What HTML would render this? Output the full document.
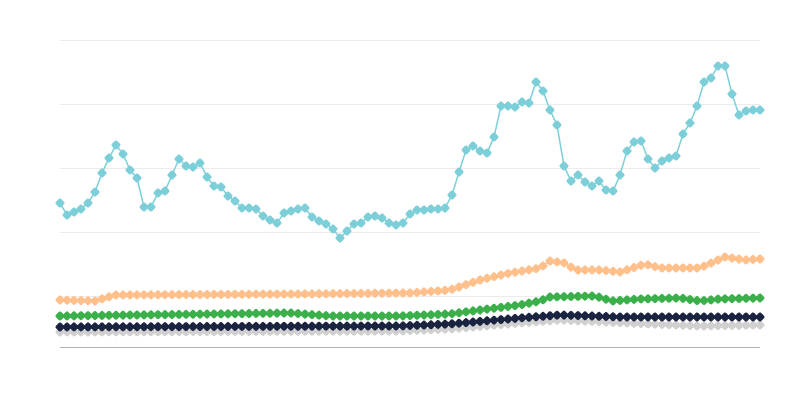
<!DOCTYPE html>
<html><head><meta charset="utf-8"><style>
html,body{margin:0;padding:0;background:#fff;width:800px;height:400px;overflow:hidden}
</style></head><body>
<svg id="s" width="800" height="400" xmlns="http://www.w3.org/2000/svg">
<g stroke="#ebebeb" stroke-width="1">
<line x1="60" x2="760" y1="40.5" y2="40.5"/>
<line x1="60" x2="760" y1="104.5" y2="104.5"/>
<line x1="60" x2="760" y1="168.5" y2="168.5"/>
<line x1="60" x2="760" y1="232.5" y2="232.5"/>
<line x1="60" x2="760" y1="296.5" y2="296.5"/>
</g>
<line x1="60" x2="760" y1="347.5" y2="347.5" stroke="#b0b0b0" stroke-width="1"/>
<g id="g"></g>
</svg>
<script>
var teal=[203,215,212,209,203,192,173,158,145,154,170,178,207,207,193,191,175,159,166,167,163,177,186,187,196,201,208,208,209,216,220,223,213,211,209,208,217,221,224,229,238,231,224,223,217,216,218,223,225,223,214,210,210,209,209,208,195,172,150,146,151,153,137,106,106,107,102,103,82,91,110,125,166,181,175,182,186,181,190,191,175,151,142,141,159,168,161,158,156,134,123,106,82,78,66,66,94,115,111,110,110];
function pw(k){var a=[];for(var i=0;i<101;i++){var x=60+7*i,j=0;while(j<k.length-2&&x>k[j+1][0])j++;var p=k[j],q=k[j+1];var t=(x-p[0])/(q[0]-p[0]);t=Math.max(0,Math.min(1,t));a.push(p[1]+(q[1]-p[1])*t);}return a;}
var orange=pw([[60,300],[95,301],[115,295],[300,294],[410,293],[450,290],[480,280],[510,273],[540,268],[550,261],[565,263],[575,270],[600,270],[620,272],[645,264],[660,268],[700,268],[725,257],[745,260],[760,259]]);
var green=pw([[60,316],[290,313],[330,316],[400,316],[450,314],[480,310],[520,305],[540,301],[550,297],[595,296],[612,301],[640,299],[680,298],[700,301],[720,299],[760,298]]);
var navy=pw([[60,327],[400,326],[450,324],[520,318],[560,315],[620,317],[760,317]]);
var gray=pw([[60,332],[400,331],[450,329],[520,323],[560,320],[650,324],[700,326],[760,325]]);
var g=document.getElementById('g'),h='';
function ser(d,c){var p='';for(var i=0;i<d.length;i++){p+=(i?'L':'M')+(60+7*i)+' '+d[i].toFixed(1);}
h+='<path d="'+p+'" fill="none" stroke="'+c+'" stroke-width="1.5"/>';
for(var i=0;i<d.length;i++){var x=60+7*i,y=d[i];h+='<rect x="'+(x-3.7)+'" y="'+(y-3.7)+'" width="7.4" height="7.4" rx="2" fill="'+c+'" transform="rotate(45 '+x+' '+y+')"/>';}}
ser(gray,'#d0d0d0');ser(navy,'#1a2340');ser(green,'#3bb04a');ser(orange,'#ffc08c');ser(teal,'#7ccfd8');
g.innerHTML=h;
</script>
</body></html>
